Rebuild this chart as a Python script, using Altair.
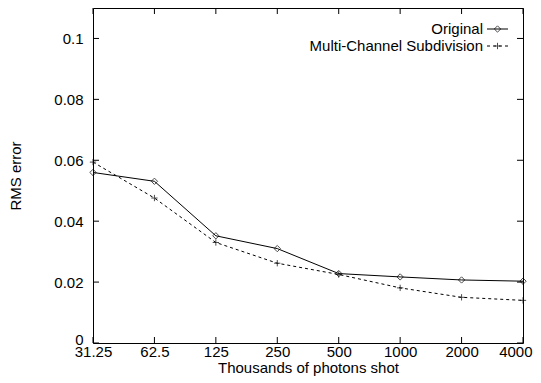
import altair as alt
import pandas as pd

categories = ["31.25", "62.5", "125", "250", "500", "1000", "2000", "4000"]
original = [0.0560, 0.0531, 0.0352, 0.0310, 0.0228, 0.0217, 0.0207, 0.0203]
multichannel = [0.0594, 0.0476, 0.0330, 0.0262, 0.0225, 0.0181, 0.0150, 0.0140]
y_ticks = [0, 0.02, 0.04, 0.06, 0.08, 0.1]
series_names = ["Original", "Multi-Channel Subdivision"]

FONT = "Liberation Sans"
FS = 15
W, H = 430, 335

df = pd.DataFrame({"x": categories, "orig": original, "mcs": multichannel})
df_yt = pd.DataFrame({"v": y_ticks})
df_xt = pd.DataFrame({"x": categories})

xscale = alt.Scale(type="point", domain=categories, padding=0)
yscale = alt.Scale(domain=[0, 0.11], nice=False, zero=True)

last_test = "datum.value == '" + categories[-1] + "'"
xaxis = alt.Axis(title="Thousands of photons shot", ticks=False, domain=False, grid=False,
                 labelPadding=1, labelFontSize=FS, labelFont=FONT, labelColor="black",
                 titleFont=FONT, titleFontSize=FS, titleFontWeight="normal", titleColor="black",
                 titlePadding=1, labelAngle=0, labelFlush=False, labelOverlap=False,
                 labelAlign={"condition": {"test": last_test, "value": "right"}, "value": "center"},
                 labelOffset={"condition": {"test": last_test, "value": 9}, "value": 0})
yaxis = alt.Axis(title="RMS error", values=y_ticks, format="~g", ticks=False, domain=False, grid=False,
                 labelPadding=10, labelFontSize=FS, labelFont=FONT, labelColor="black",
                 titleFont=FONT, titleFontSize=FS, titleFontWeight="normal", titleColor="black",
                 titlePadding=30, labelFlush=False,
                 labelOffset={"condition": {"test": "datum.value == 0", "value": -4}, "value": 0})

base = alt.Chart(df)

line_o = base.mark_line(color="black", strokeWidth=1).encode(
    x=alt.X("x:N", scale=xscale, sort=categories, axis=xaxis),
    y=alt.Y("orig:Q", scale=yscale, axis=yaxis),
)
pts_o = base.mark_point(shape="diamond", filled=False, color="black", size=40, strokeWidth=1).encode(
    x=alt.X("x:N", scale=xscale, sort=categories),
    y=alt.Y("orig:Q", scale=yscale),
)
line_m = base.mark_line(color="black", strokeWidth=1, strokeDash=[3, 3]).encode(
    x=alt.X("x:N", scale=xscale, sort=categories),
    y=alt.Y("mcs:Q", scale=yscale),
)
pts_m = base.mark_point(shape="M-1,0L1,0M0,-1L0,1", filled=False, color="black", size=40, strokeWidth=1).encode(
    x=alt.X("x:N", scale=xscale, sort=categories),
    y=alt.Y("mcs:Q", scale=yscale),
)

# inward ticks (gnuplot style, mirrored)
yt_left = alt.Chart(df_yt).mark_rule(color="black", strokeWidth=1).encode(
    y=alt.Y("v:Q", scale=yscale), x=alt.value(0), x2=alt.value(6))
yt_right = alt.Chart(df_yt).mark_rule(color="black", strokeWidth=1).encode(
    y=alt.Y("v:Q", scale=yscale), x=alt.value(W - 6), x2=alt.value(W))
xt_bot = alt.Chart(df_xt).mark_rule(color="black", strokeWidth=1).encode(
    x=alt.X("x:N", scale=xscale, sort=categories), y=alt.value(H), y2=alt.value(H - 6))
xt_top = alt.Chart(df_xt).mark_rule(color="black", strokeWidth=1).encode(
    x=alt.X("x:N", scale=xscale, sort=categories), y=alt.value(0), y2=alt.value(6))

# legend (gnuplot style: text right, sample to the right)
leg_df = pd.DataFrame({"name": series_names})
LX_T, LX0, LX1 = 390, 394, 415
LY0, LY1 = 21, 38
leg_t1 = alt.Chart(leg_df.iloc[[0]]).mark_text(align="right", baseline="middle", font=FONT, fontSize=FS, color="black").encode(
    text="name:N", x=alt.value(LX_T), y=alt.value(LY0))
leg_t2 = alt.Chart(leg_df.iloc[[1]]).mark_text(align="right", baseline="middle", font=FONT, fontSize=FS, color="black").encode(
    text="name:N", x=alt.value(LX_T), y=alt.value(LY1))
leg_l1 = alt.Chart(leg_df.iloc[[0]]).mark_rule(color="black", strokeWidth=1).encode(
    x=alt.value(LX0), x2=alt.value(LX1), y=alt.value(LY0))
leg_l2 = alt.Chart(leg_df.iloc[[1]]).mark_rule(color="black", strokeWidth=1, strokeDash=[3, 3]).encode(
    x=alt.value(LX0), x2=alt.value(LX1), y=alt.value(LY1))
leg_p1 = alt.Chart(leg_df.iloc[[0]]).mark_point(shape="diamond", filled=False, color="black", size=40, strokeWidth=1).encode(
    x=alt.value((LX0 + LX1) / 2), y=alt.value(LY0))
leg_p2 = alt.Chart(leg_df.iloc[[1]]).mark_point(shape="M-1,0L1,0M0,-1L0,1", filled=False, color="black", size=40, strokeWidth=1).encode(
    x=alt.value((LX0 + LX1) / 2), y=alt.value(LY1))

chart = alt.layer(
    line_o, pts_o, line_m, pts_m, yt_left, yt_right, xt_bot, xt_top,
    leg_t1, leg_t2, leg_l1, leg_l2, leg_p1, leg_p2
).properties(
    width=W, height=H,
    autosize=alt.AutoSizeParams(type="none"),
    padding={"left": 85, "top": 0, "right": 10, "bottom": 40},
    background="white",
).configure_view(stroke="black", strokeWidth=1)

chart.save("out.html", embed_options={"renderer": "svg", "actions": False})
